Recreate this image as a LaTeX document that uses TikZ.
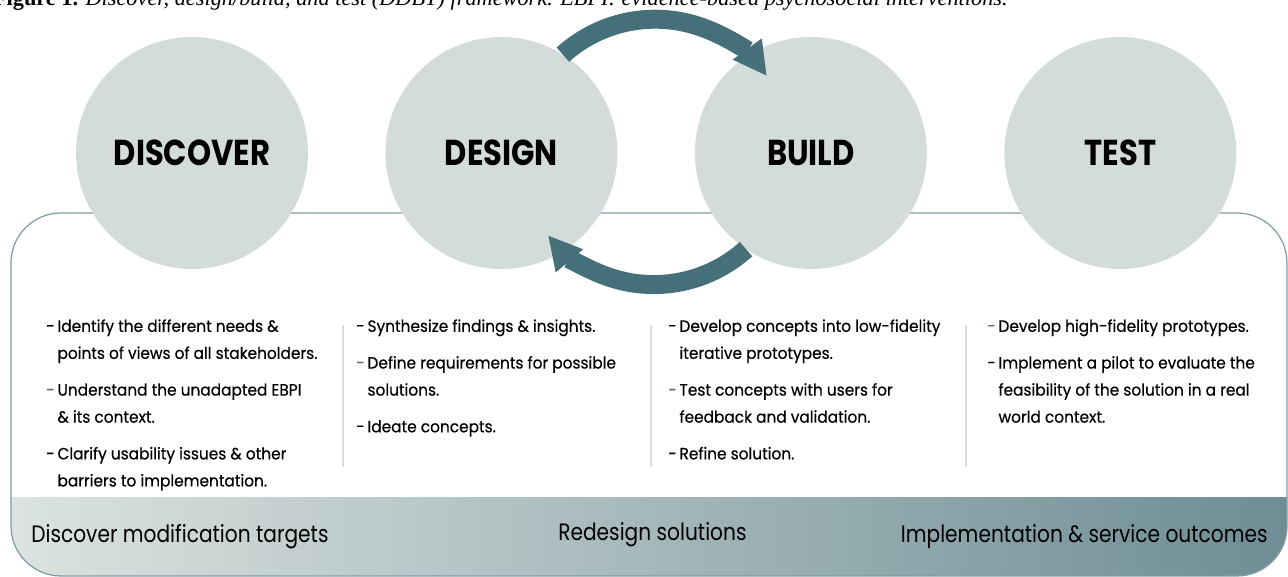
\documentclass[tikz,border=0pt]{standalone}
\usepackage{fontspec}
\setmainfont{Poppins}[FakeStretch=0.94, FakeBold=0.4]
\newfontfamily\stagefont{Poppins}[FakeStretch=0.85]
\newfontfamily\captionfont{Liberation Serif}
\usetikzlibrary{positioning, arrows.meta}

\definecolor{stagefill}{HTML}{D3DCD9}
\definecolor{loopteal}{HTML}{467079}
\definecolor{framegray}{HTML}{7F9CA4}
\definecolor{rulegray}{HTML}{D5DEDB}
\definecolor{bandleft}{HTML}{DCE3E0}
\definecolor{bandmid}{HTML}{BDCACA}
\definecolor{bandright}{HTML}{6E8D95}
\definecolor{dashmauve}{HTML}{7E5C78}

\newcommand{\dsh}{-\,}
\newcommand{\mdsh}{\textcolor{dashmauve}{-}\,}
\newcommand{\hng}{\phantom{-\,}}

\begin{document}
\begin{tikzpicture}[
        x=0.02cm, y=0.02cm,
        node distance=1.55cm,
        stage/.style={circle, fill=stagefill, inner sep=0pt, outer sep=0pt, minimum size=4.64cm,
          font=\stagefont\fontsize{20.5}{20.5}\selectfont\bfseries},
        notes/.style={anchor=north west, align=left, inner sep=0pt,
          font=\fontsize{9.3}{15.4}\selectfont},
        outcome/.style={anchor=base west, inner sep=0pt, font=\stagefont\fontsize{13.5}{13.5}\selectfont},
        loop/.style={draw=loopteal, line width=10.8pt, -{Triangle[length=19pt, width=19pt]}},
        frame/.style={draw=framegray, line width=0.7pt, rounded corners=1cm},
        rule/.style={draw=rulegray, line width=1.2pt}
      ]
        \useasboundingbox (0,0) rectangle (1288,577);

        % Caption (cut at the top edge)
        \begin{scope}
          \clip (0,0) rectangle (1288,577);
          \node[anchor=base east, inner sep=0pt, font=\captionfont\fontsize{12.7}{12.7}\selectfont] (caption) at (1008,571)
            {\textbf{Figure 1.} \textit{Discover, design/build, and test (DDBT) framework. EBPI: evidence-based psychosocial interventions.}};
        \end{scope}

        % Band at the bottom
        \begin{scope}
          \clip[rounded corners=1cm] (11,1) rectangle (1287,364);
          \shade[left color=bandleft, middle color=bandmid, right color=bandright] (11,1) rectangle (1287,79);
        \end{scope}
        \draw[frame] (11,1) rectangle (1287,364);

        % Stages
        \node[stage] (discover) at (192,424) {DISCOVER};
        \node[stage, right=of discover] (design) {DESIGN};
        \node[stage, right=of design] (build) {BUILD};
        \node[stage, right=of build] (test) {TEST};

        % Loop between design and build
        \draw[loop] (design.58) arc[start angle=132, end angle=36, radius=2.76cm];
        \draw[loop] (build.236) arc[start angle=-48, end angle=-140, radius=2.76cm];

        % Rules
        \draw[rule] (343,110) -- (343,252);
        \draw[rule] (651,110) -- (651,252);
        \draw[rule] (966,110) -- (966,252);

        % Notes
        \node[notes] (discovernotes) at (46,258) {\dsh Identify the different needs \&\\
          \hng points of views of all stakeholders.\\[5.5pt]
          \mdsh Understand the unadapted EBPI\\
          \hng \& its context.\\[5.5pt]
          \dsh Clarify usability issues \& other\\
          \hng barriers to implementation.};
        \node[notes] (designnotes) at (356,258) {\dsh Synthesize findings \& insights.\\[5.5pt]
          \mdsh Define requirements for possible\\
          \hng solutions.\\[5.5pt]
          \dsh Ideate concepts.};
        \node[notes] (buildnotes) at (668,258) {\dsh Develop concepts into low-fidelity\\
          \hng iterative prototypes.\\[5.5pt]
          \mdsh Test concepts with users for\\
          \hng feedback and validation.\\[5.5pt]
          \dsh Refine solution.};
        \node[notes] (testnotes) at (987,258) {\mdsh Develop high-fidelity prototypes.\\[5.5pt]
          \dsh Implement a pilot to evaluate the\\
          \hng feasibility of the solution in a real\\
          \hng world context.};

        % Outcomes
        \node[outcome] (targets) at (31,34) {Discover modification targets};
        \node[outcome] (redesign) at (558,36) {Redesign solutions};
        \node[outcome, anchor=base east] (outcomes) at (1268,34) {Implementation \& service outcomes};
      \end{tikzpicture}
\end{document}
